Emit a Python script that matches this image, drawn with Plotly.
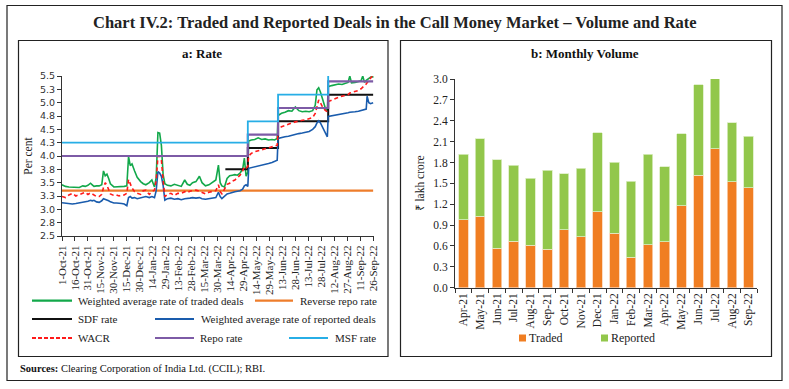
import plotly.graph_objects as go

W, H = 789, 389

# ---------------- Panel a data (daily rates) ----------------
dates = [
    "2021-10-01","2021-10-05","2021-10-09","2021-10-13","2021-10-17","2021-10-21","2021-10-25","2021-10-28",
    "2021-10-31","2021-11-03","2021-11-05","2021-11-07","2021-11-10","2021-11-13","2021-11-16","2021-11-18",
    "2021-11-20","2021-11-22","2021-11-24","2021-11-26","2021-11-30","2021-12-03","2021-12-06","2021-12-09",
    "2021-12-12","2021-12-15","2021-12-17","2021-12-19","2021-12-21","2021-12-24","2021-12-27","2021-12-31",
    "2022-01-03","2022-01-06","2022-01-10","2022-01-13","2022-01-16","2022-01-18","2022-01-20","2022-01-22",
    "2022-01-24","2022-01-26","2022-01-28","2022-01-31","2022-02-04","2022-02-08","2022-02-12","2022-02-16",
    "2022-02-20","2022-02-23","2022-02-26","2022-03-01","2022-03-05","2022-03-09","2022-03-12","2022-03-16",
    "2022-03-20","2022-03-24","2022-03-28","2022-03-31","2022-04-02","2022-04-04","2022-04-07","2022-04-10",
    "2022-04-13","2022-04-16","2022-04-19","2022-04-22","2022-04-25","2022-04-28","2022-04-30","2022-05-02",
    "2022-05-04","2022-05-05","2022-05-08","2022-05-12","2022-05-16","2022-05-20","2022-05-24","2022-05-28",
    "2022-06-01","2022-06-04","2022-06-07","2022-06-08","2022-06-12","2022-06-16","2022-06-20","2022-06-24",
    "2022-06-28","2022-07-02","2022-07-06","2022-07-10","2022-07-14","2022-07-18","2022-07-21","2022-07-23",
    "2022-07-25","2022-07-27","2022-07-30","2022-08-02","2022-08-04","2022-08-05","2022-08-09","2022-08-13",
    "2022-08-17","2022-08-21","2022-08-25","2022-08-28","2022-08-30","2022-09-01","2022-09-05","2022-09-09",
    "2022-09-12","2022-09-14","2022-09-16","2022-09-18","2022-09-19","2022-09-21","2022-09-23","2022-09-25",
    "2022-09-26",
]
traded_rate = [
    3.46,3.43,3.42,3.42,3.41,3.41,3.44,3.43,
    3.45,3.49,3.46,3.43,3.44,3.44,3.46,3.72,
    3.63,3.66,3.58,3.48,3.42,3.42,3.42,3.43,
    3.43,3.44,3.99,3.82,3.85,3.72,3.60,3.52,
    3.48,3.46,3.50,3.55,3.42,3.60,4.44,4.43,
    4.20,3.65,3.48,3.45,3.44,3.47,3.45,3.43,
    3.55,3.47,3.45,3.50,3.52,3.62,3.50,3.44,
    3.46,3.50,3.55,3.83,3.50,3.44,3.42,3.58,
    3.63,3.64,3.65,3.64,3.68,3.75,3.96,3.62,
    3.70,4.28,4.30,4.31,4.34,4.31,4.32,4.30,
    4.31,4.30,4.33,4.76,4.80,4.82,4.85,4.84,
    4.92,4.85,4.83,4.84,4.83,4.85,4.95,5.24,
    5.28,5.20,5.02,4.88,4.85,5.30,5.32,5.33,
    5.35,5.34,5.36,5.38,5.50,5.37,5.38,5.40,
    5.41,5.50,5.38,5.42,5.43,5.45,5.48,5.50,
    5.47,
]
wacr = [
    3.24,3.22,3.27,3.30,3.25,3.27,3.30,3.32,
    3.28,3.31,3.29,3.26,3.24,3.24,3.28,3.41,
    3.50,3.45,3.36,3.29,3.26,3.27,3.25,3.27,
    3.27,3.30,3.56,3.46,3.40,3.33,3.30,3.28,
    3.35,3.36,3.28,3.33,3.36,3.55,3.99,4.00,
    3.92,3.55,3.24,3.28,3.30,3.26,3.30,3.30,
    3.33,3.31,3.34,3.35,3.36,3.34,3.32,3.29,
    3.32,3.33,3.35,3.46,3.33,3.29,3.38,3.47,
    3.49,3.53,3.55,3.60,3.64,3.72,3.80,3.78,
    3.80,4.00,4.05,4.08,4.10,4.11,4.13,4.15,
    4.17,4.18,4.20,4.50,4.55,4.57,4.60,4.62,
    4.64,4.66,4.67,4.68,4.70,4.72,4.80,4.95,
    5.05,5.00,4.90,4.85,4.83,5.02,5.05,5.08,
    5.10,5.12,5.13,5.15,5.18,5.19,5.21,5.23,
    5.26,5.30,5.32,5.35,5.38,5.42,5.46,5.50,
    5.45,
]
reported_rate = [
    3.125,3.12,3.11,3.10,3.11,3.12,3.13,3.14,
    3.15,3.17,3.16,3.17,3.14,3.13,3.16,3.20,
    3.19,3.18,3.16,3.14,3.12,3.12,3.12,3.11,
    3.10,3.07,3.22,3.24,3.21,3.22,3.20,3.22,
    3.23,3.24,3.22,3.24,3.22,3.35,3.71,3.68,
    3.62,3.45,3.17,3.20,3.21,3.19,3.20,3.18,
    3.20,3.20,3.21,3.22,3.21,3.22,3.20,3.19,
    3.20,3.21,3.22,3.32,3.24,3.20,3.24,3.29,
    3.30,3.32,3.33,3.34,3.35,3.38,3.44,3.46,
    3.43,3.77,3.78,3.80,3.81,3.83,3.84,3.86,
    3.88,3.90,3.92,4.33,4.35,4.36,4.37,4.39,
    4.40,4.42,4.43,4.44,4.46,4.50,4.55,4.62,
    4.66,4.62,4.52,4.40,4.36,4.74,4.75,4.76,
    4.77,4.79,4.80,4.81,4.82,4.82,4.83,4.84,
    4.85,4.86,4.87,4.88,5.12,5.00,4.98,4.99,
    5.00,
]

# Policy rates (step changes)
policy_dates = ["2021-10-01", "2022-05-04", "2022-06-08", "2022-08-05", "2022-09-26"]
repo_rate = [4.00, 4.40, 4.90, 5.40, 5.40]
msf_rate = [4.25, 4.65, 5.15, 5.65, 5.65]
sdf_dates = ["2022-04-08", "2022-05-04", "2022-06-08", "2022-08-05", "2022-09-26"]
sdf_rate = [3.75, 4.15, 4.65, 5.15, 5.15]
rrr_dates = ["2021-10-01", "2022-09-26"]
reverse_repo = [3.35, 3.35]

a_tick_dates = [
    "2021-10-01","2021-10-16","2021-10-31","2021-11-15","2021-11-30","2021-12-15","2021-12-30",
    "2022-01-14","2022-01-29","2022-02-13","2022-02-28","2022-03-15","2022-03-30","2022-04-14",
    "2022-04-29","2022-05-14","2022-05-29","2022-06-13","2022-06-28","2022-07-13","2022-07-28",
    "2022-08-12","2022-08-27","2022-09-11","2022-09-26",
]
a_tick_text = [
    "1-Oct-21","16-Oct-21","31-Oct-21","15-Nov-21","30-Nov-21","15-Dec-21","30-Dec-21",
    "14-Jan-22","29-Jan-22","13-Feb-22","28-Feb-22","15-Mar-22","30-Mar-22","14-Apr-22",
    "29-Apr-22","14-May-22","29-May-22","13-Jun-22","28-Jun-22","13-Jul-22","28-Jul-22",
    "12-Aug-22","27-Aug-22","11-Sep-22","26-Sep-22",
]
a_ytick_vals = [2.5, 2.75, 3.0, 3.25, 3.5, 3.75, 4.0, 4.25, 4.5, 4.75, 5.0, 5.25, 5.5]
a_ytick_text = ["2.5", "2.8", "3.0", "3.3", "3.5", "3.8", "4.0", "4.3", "4.5", "4.8", "5.0", "5.3", "5.5"]

# ---------------- Panel b data (monthly volume, ₹ lakh crore) ----------------
months = ["Apr-21","May-21","Jun-21","Jul-21","Aug-21","Sep-21","Oct-21","Nov-21","Dec-21",
          "Jan-22","Feb-22","Mar-22","Apr-22","May-22","Jun-22","Jul-22","Aug-22","Sep-22"]
traded_vol = [0.98, 1.03, 0.57, 0.67, 0.61, 0.55, 0.83, 0.73, 1.09,
              0.78, 0.44, 0.62, 0.66, 1.18, 1.62, 2.00, 1.52, 1.44]
reported_vol = [0.94, 1.11, 1.27, 1.09, 0.96, 1.14, 0.81, 0.99, 1.14,
                1.02, 1.09, 1.30, 1.08, 1.03, 1.30, 1.01, 0.85, 0.74]

# ---------------- Colours ----------------
C_GREEN = "#12A84A"
C_ORANGE = "#EE7D2B"
C_BLACK = "#111111"
C_BLUE = "#1A5CAD"
C_RED = "#FF1A1A"
C_PURPLE = "#7D5BA6"
C_CYAN = "#27AEE6"
B_ORANGE = "#F07E22"
B_GREEN = "#92C74B"

SERIF = "Liberation Serif"


def X(p):
    return p / W


def Y(p):
    return 1 - p / H


fig = go.Figure()

# Panel a traces (series order as in source)
fig.add_trace(go.Scatter(x=dates, y=traded_rate, mode="lines", line=dict(color=C_GREEN, width=1.6),
                         xaxis="x", yaxis="y", showlegend=False))
fig.add_trace(go.Scatter(x=rrr_dates, y=reverse_repo, mode="lines", line=dict(color=C_ORANGE, width=2.2),
                         xaxis="x", yaxis="y", showlegend=False))
fig.add_trace(go.Scatter(x=sdf_dates, y=sdf_rate, mode="lines", line=dict(color=C_BLACK, width=2, shape="hv"),
                         xaxis="x", yaxis="y", showlegend=False))
fig.add_trace(go.Scatter(x=dates, y=reported_rate, mode="lines", line=dict(color=C_BLUE, width=1.6),
                         xaxis="x", yaxis="y", showlegend=False))
fig.add_trace(go.Scatter(x=dates, y=wacr, mode="lines", line=dict(color=C_RED, width=1.6, dash="4px,3px"),
                         xaxis="x", yaxis="y", showlegend=False))
fig.add_trace(go.Scatter(x=policy_dates, y=repo_rate, mode="lines", line=dict(color=C_PURPLE, width=2.2, shape="hv"),
                         xaxis="x", yaxis="y", showlegend=False))
fig.add_trace(go.Scatter(x=policy_dates, y=msf_rate, mode="lines", line=dict(color=C_CYAN, width=1.8, shape="hv"),
                         xaxis="x", yaxis="y", showlegend=False))

# Panel b traces
fig.add_trace(go.Bar(x=months, y=traded_vol, marker=dict(color=B_ORANGE, line=dict(color="#FBD3B5", width=0.8)),
                     xaxis="x2", yaxis="y2", showlegend=False))
fig.add_trace(go.Bar(x=months, y=reported_vol, marker=dict(color=B_GREEN, line=dict(color="#DCEEC4", width=0.8)),
                     xaxis="x2", yaxis="y2", showlegend=False))

axis_col = "#333333"

fig.update_layout(
    width=W, height=H,
    margin=dict(l=0, r=0, t=0, b=0),
    paper_bgcolor="white", plot_bgcolor="white",
    barmode="stack", bargap=0.43,
    font=dict(family=SERIF, color="#222222"),
    xaxis=dict(domain=[X(62), X(374)], type="date", range=["2021-10-01", "2022-09-27"],
               tickvals=a_tick_dates, ticktext=a_tick_text, tickangle=-90,
               tickfont=dict(family=SERIF, size=11, color="#222"),
               showline=True, linecolor=axis_col, linewidth=1, ticks="outside", ticklen=4,
               tickcolor=axis_col, showgrid=False, zeroline=False, automargin=False, anchor="y"),
    yaxis=dict(domain=[Y(236), Y(76)], range=[2.5, 5.5], tickvals=a_ytick_vals, ticktext=a_ytick_text,
               tickfont=dict(family="DejaVu Sans", size=9.5, color="#333"),
               showline=True, linecolor=axis_col, linewidth=1, ticks="outside", ticklen=4,
               tickcolor=axis_col, showgrid=False, zeroline=False, automargin=False, anchor="x",
               title=dict(text="Per cent", font=dict(family=SERIF, size=11.5, color="#222"), standoff=4)),
    xaxis2=dict(domain=[X(455), X(757)], type="category", tickangle=-90,
                tickfont=dict(family=SERIF, size=11.5, color="#222"),
                showline=True, linecolor=axis_col, linewidth=1, ticks="outside", ticklen=4,
                tickcolor=axis_col, tickson="boundaries", showgrid=False, zeroline=False,
                automargin=False, anchor="y2"),
    yaxis2=dict(domain=[Y(287.7), Y(79)], range=[0, 3.0], dtick=0.3, tick0=0, tickformat=".1f",
                tickfont=dict(family=SERIF, size=11.5, color="#222"),
                showline=True, linecolor=axis_col, linewidth=1, ticks="outside", ticklen=4,
                tickcolor=axis_col, showgrid=False, zeroline=False, automargin=False, anchor="x2",
                title=dict(text="₹ lakh crore", font=dict(family=SERIF, size=11.5, color="#222"), standoff=6)),
)

shapes = []
# Frames
shapes.append(dict(type="rect", xref="paper", yref="paper", x0=X(7), x1=X(782), y0=Y(380.5), y1=Y(5.5),
                   line=dict(color="#222", width=1.2)))
shapes.append(dict(type="rect", xref="paper", yref="paper", x0=X(18.5), x1=X(388), y0=Y(356.5), y1=Y(40.5),
                   line=dict(color="#222", width=1.2)))
shapes.append(dict(type="rect", xref="paper", yref="paper", x0=X(400.5), x1=X(771.5), y0=Y(356.5), y1=Y(40.5),
                   line=dict(color="#222", width=1.2)))

annotations = []
annotations.append(dict(text="<b>Chart IV.2: Traded and Reported Deals in the Call Money Market – Volume and Rate</b>",
                        x=X(394.5), y=Y(22), xref="paper", yref="paper", showarrow=False,
                        font=dict(family=SERIF, size=16.5, color="#222"), xanchor="center", yanchor="middle"))
annotations.append(dict(text="<b>a: Rate</b>", x=X(202), y=Y(53), xref="paper", yref="paper", showarrow=False,
                        font=dict(family=SERIF, size=13, color="#111"), xanchor="center", yanchor="middle"))
annotations.append(dict(text="<b>b: Monthly Volume</b>", x=X(585), y=Y(53), xref="paper", yref="paper",
                        showarrow=False, font=dict(family=SERIF, size=13, color="#111"),
                        xanchor="center", yanchor="middle"))
annotations.append(dict(text="<b>Sources:</b> Clearing Corporation of India Ltd. (CCIL); RBI.",
                        x=X(18), y=Y(369), xref="paper", yref="paper", showarrow=False,
                        font=dict(family=SERIF, size=10.5, color="#111"), xanchor="left", yanchor="middle"))

# Panel a legend (custom layout)
legend_items = [
    (32, 72, 300.7, C_GREEN, "solid", "Weighted average rate of traded deals", 76),
    (255, 293, 300.7, C_ORANGE, "solid", "Reverse repo rate", 298),
    (32, 72, 319, C_BLACK, "solid", "SDF rate", 76),
    (155, 194, 319, C_BLUE, "solid", "Weighted average rate of reported deals", 199),
    (32, 72, 338, C_RED, "dash", "WACR", 76),
    (155, 194, 338, C_PURPLE, "solid", "Repo rate", 198),
    (289, 328, 338, C_CYAN, "solid", "MSF rate", 333),
]
for x0, x1, yy, col, dash, label, tx in legend_items:
    shapes.append(dict(type="line", xref="paper", yref="paper", x0=X(x0), x1=X(x1), y0=Y(yy), y1=Y(yy),
                       line=dict(color=col, width=2.2, dash="4px,2px" if dash == "dash" else "solid")))
    annotations.append(dict(text=label, x=X(tx), y=Y(yy), xref="paper", yref="paper", showarrow=False,
                            font=dict(family=SERIF, size=11, color="#222"), xanchor="left", yanchor="middle"))

# Panel b legend
for sx, col, label in [(519, B_ORANGE, "Traded"), (601, B_GREEN, "Reported")]:
    shapes.append(dict(type="rect", xref="paper", yref="paper", x0=X(sx), x1=X(sx + 7), y0=Y(341.5), y1=Y(334.5),
                       fillcolor=col, line=dict(width=0)))
    annotations.append(dict(text=label, x=X(sx + 8), y=Y(338), xref="paper", yref="paper", showarrow=False,
                            font=dict(family=SERIF, size=12, color="#222"), xanchor="left", yanchor="middle"))

fig.update_layout(shapes=shapes, annotations=annotations)

fig.write_html("out.html", config={"displayModeBar": False},
               post_script="document.body.style.margin='0';document.body.style.padding='0';")
